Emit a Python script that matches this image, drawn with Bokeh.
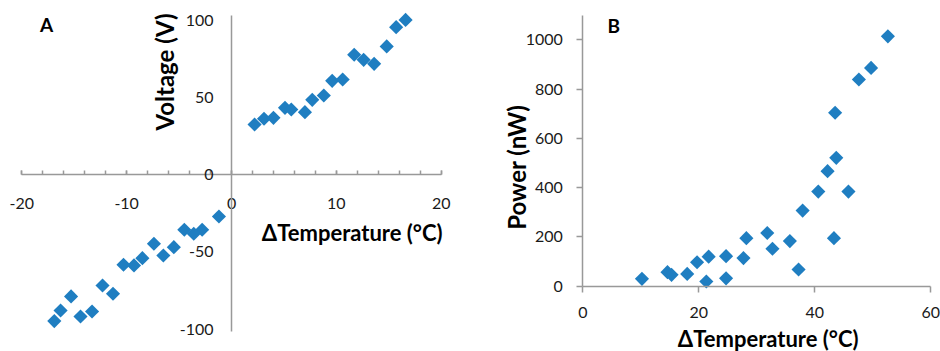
import numpy as np
from bokeh.plotting import figure
from bokeh.models import Label, FixedTicker, Range1d, NumeralTickFormatter
from bokeh.layouts import row
from bokeh.embed import file_html
from bokeh.resources import INLINE

# ---- Panel A data: Voltage vs ΔTemperature ----
a_dt = [2.2, 3.1, 4.0, 5.1, 5.7, 7.0, 7.7, 8.8, 9.6, 10.6, 11.7, 12.6, 13.6, 14.8, 15.7, 16.6,
        -1.2, -2.8, -3.6, -4.5, -5.5, -6.5, -7.4, -8.5, -9.3, -10.3, -11.3, -12.3, -13.3,
        -14.4, -15.3, -16.3, -16.9]
a_v = [32.6, 36.3, 36.9, 43.4, 42.3, 40.6, 48.6, 51.4, 60.9, 61.8, 77.8, 74.5, 71.9, 83.2, 95.7, 100.4,
       -27.0, -35.6, -38.2, -35.6, -46.9, -52.3, -44.7, -54.0, -58.7, -58.3, -77.1, -71.7, -88.6,
       -91.8, -78.8, -87.9, -94.8]
a_xticks = [-20, -10, 0, 10, 20]
a_xminor = [-20, -18, -16, -14, -12, -10, -8, -6, -4, -2, 0, 2, 4, 6, 8, 10, 12, 14, 16, 18, 20]
a_yticks = [-100, -50, 0, 50, 100]

# ---- Panel B data: Power vs ΔTemperature ----
b_dt = [10.2, 14.6, 15.3, 18.0, 19.7, 21.3, 21.7, 24.7, 24.7, 27.7, 28.2, 31.8, 32.7, 35.7, 37.2,
        37.9, 40.6, 42.2, 43.7, 43.5, 43.3, 45.8, 47.6, 49.7, 52.6]
b_p = [30, 57, 46, 50, 97, 19, 120, 122, 32, 114, 195, 216, 152, 183, 68,
       307, 384, 467, 521, 704, 195, 384, 839, 886, 1014]
b_xticks = [0, 20, 40, 60]
b_yticks = [0, 200, 400, 600, 800, 1000]

BLUE = "#1f7ec1"
AXIS = "#999999"
TICKTXT = "#1a1a1a"
FONT = "Lato"
TICK_SIZE = "16px"
XTITLE_SIZE = "22px"
YTITLE_SIZE = "24px"
PANEL_SIZE = "19px"


def make_fig(xr, yr):
    p = figure(frame_width=470, frame_height=351, title=None,
               min_border_left=0, min_border_right=0, min_border_top=0, min_border_bottom=0,
               x_range=Range1d(*xr), y_range=Range1d(*yr),
               output_backend="svg", toolbar_location=None)
    p.xgrid.visible = False
    p.ygrid.visible = False
    p.outline_line_color = None
    p.background_fill_color = "white"
    p.border_fill_color = "white"
    p.xaxis.fixed_location = 0
    p.yaxis.fixed_location = 0
    for ax in (p.xaxis[0], p.yaxis[0]):
        ax.axis_line_color = AXIS
        ax.axis_line_width = 1.5
        ax.major_tick_line_color = AXIS
        ax.minor_tick_line_color = AXIS
        ax.major_tick_line_width = 1.5
        ax.minor_tick_line_width = 1.5
        ax.major_label_text_font = FONT
        ax.major_label_text_font_size = TICK_SIZE
        ax.major_label_text_color = TICKTXT
        ax.formatter = NumeralTickFormatter(format="0")
    return p


def title(p, x, y, text, size, vertical=False):
    p.add_layout(Label(x=x, y=y, text=text, angle=(np.pi / 2 if vertical else 0),
                       text_align="center", text_baseline="middle",
                       text_font=FONT, text_font_size=size, text_font_style="bold",
                       text_color="black"))


# ---------------- Panel A (axes crossing at the origin) ----------------
pA = make_fig((-22.03, 22.79), (-114.5, 112.96))
pA.xaxis.bounds = (-20, 20)
pA.yaxis.bounds = (-101.6, 103.2)
pA.xaxis.ticker = FixedTicker(ticks=a_xticks, minor_ticks=a_xminor)
pA.xaxis.major_tick_in = 4
pA.xaxis.major_tick_out = 0
pA.xaxis.minor_tick_in = 4
pA.xaxis.minor_tick_out = 0
pA.xaxis.major_label_standoff = 23
pA.yaxis.ticker = FixedTicker(ticks=a_yticks, minor_ticks=[])
pA.yaxis.major_tick_in = 0
pA.yaxis.major_tick_out = 0
pA.yaxis.minor_tick_in = 0
pA.yaxis.minor_tick_out = 0
pA.yaxis.major_label_standoff = 18

pA.scatter(a_dt, a_v, marker="square", size=10, angle=np.pi / 4,
           fill_color=BLUE, line_color=None)

title(pA, -6.39, 66.6, "Voltage (V)", YTITLE_SIZE, vertical=True)
title(pA, 11.51, -37.2, "ΔTemperature (°C)", XTITLE_SIZE)
title(pA, -17.64, 97.4, "A", PANEL_SIZE)

# ---------------- Panel B ----------------
pB = make_fig((-19.36, 61.67), (-265.0, 1159.5))
pB.xaxis.bounds = (0, 60)
pB.yaxis.bounds = (0, 1100)
pB.xaxis.ticker = FixedTicker(ticks=b_xticks, minor_ticks=[])
pB.yaxis.ticker = FixedTicker(ticks=b_yticks, minor_ticks=[])
for ax in (pB.xaxis[0], pB.yaxis[0]):
    ax.major_tick_in = 0
    ax.major_tick_out = 6
    ax.minor_tick_in = 0
    ax.minor_tick_out = 0
pB.xaxis.major_label_standoff = 15
pB.yaxis.major_label_standoff = 14

pB.scatter(b_dt, b_p, marker="square", size=10, angle=np.pi / 4,
           fill_color=BLUE, line_color=None)

title(pB, -11.48, 483, "Power (nW)", YTITLE_SIZE, vertical=True)
title(pB, 31.97, -212, "ΔTemperature (°C)", XTITLE_SIZE)
title(pB, 5.34, 1059, "B", PANEL_SIZE)

layout = row(pA, pB)
open("out.html", "w").write(file_html(layout, INLINE))
